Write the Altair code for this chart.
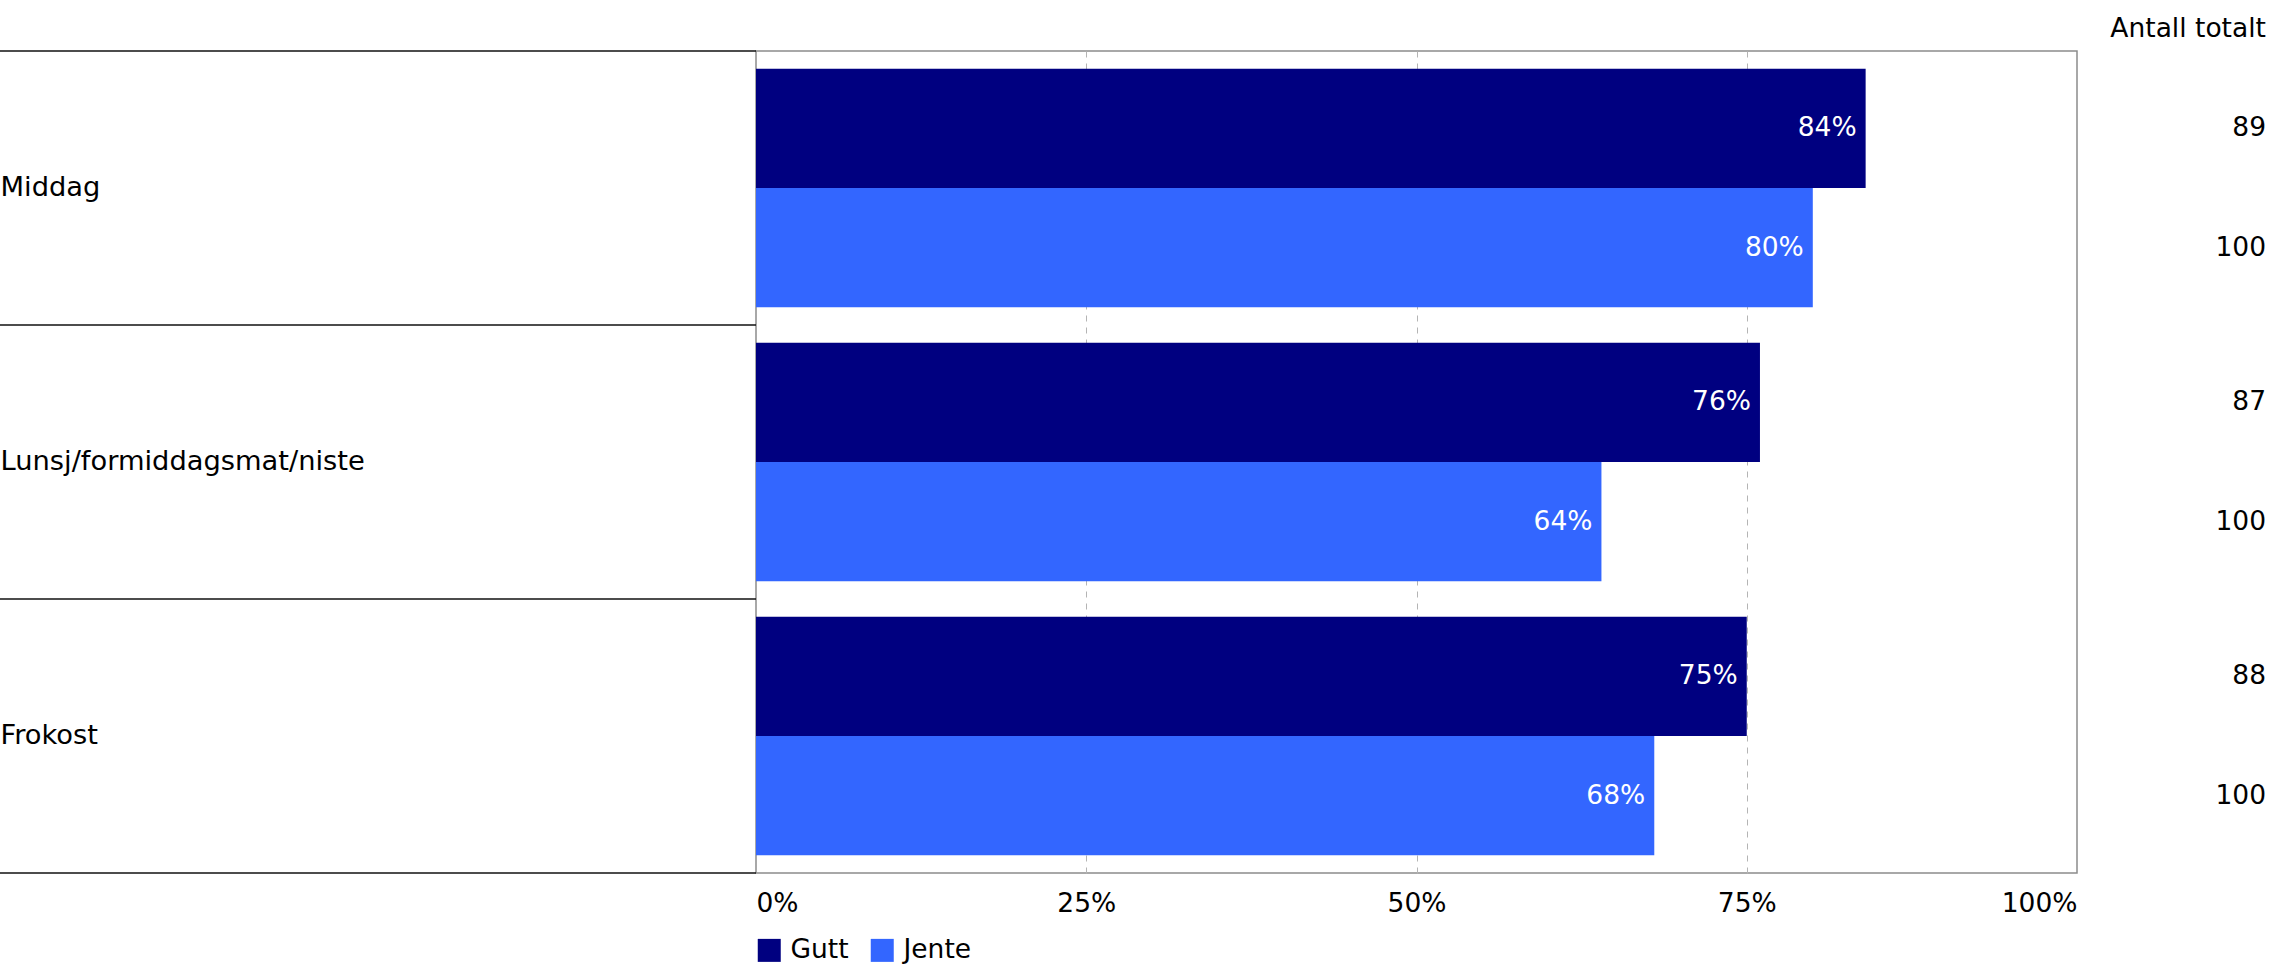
import altair as alt
import pandas as pd

categories = ["Middag", "Lunsj/formiddagsmat/niste", "Frokost"]
genders = ["Gutt", "Jente"]
gutt_pct = [84, 76, 75]
jente_pct = [80, 64, 68]
gutt_n = [89, 87, 88]
jente_n = [100, 100, 100]
x_ticks = [0, 25, 50, 75, 100]
header = "Antall totalt"
colors = ["#000080", "#3366FF"]

rows = []
for i, c in enumerate(categories):
    rows.append({"cat": c, "gender": "Gutt", "value": gutt_pct[i], "n": gutt_n[i]})
    rows.append({"cat": c, "gender": "Jente", "value": jente_pct[i], "n": jente_n[i]})
df = pd.DataFrame(rows)
df["label"] = df["value"].astype(str) + "%"
df["nlabel"] = df["n"].astype(str)

FONT = "DejaVu Sans"
FS = 26.5
W, H = 1321, 822
LEFT = 756

yscale = alt.Scale(domain=categories, paddingInner=0, paddingOuter=0)
yaxis = alt.Axis(labelAlign="left", labelPadding=LEFT, labelLimit=1000, ticks=False,
                 domain=False, labelFontSize=27.3, labelColor="#000", labelFont=FONT,
                 title=None, labelBaseline="middle")
y = alt.Y("cat:N", sort=categories, scale=yscale, axis=yaxis, title=None)
yoff = alt.YOffset("gender:N", sort=genders,
                   scale=alt.Scale(domain=genders, paddingOuter=0.15, paddingInner=0))
x = alt.X("value:Q", scale=alt.Scale(domain=[0, 100], nice=False, zero=True),
          axis=alt.Axis(values=x_ticks, labelExpr="datum.value + '%'", grid=True,
                        gridDash=[6, 6], gridColor="#b4b4b4", gridWidth=1,
                        gridOpacity={"condition": {"test": "datum.value > 0 && datum.value < 100", "value": 1}, "value": 0},
                        ticks=False, domain=False, labelFlush=True, labelPadding=17,
                        labelFontSize=FS, labelFont=FONT, labelColor="#000", title=None))

base = alt.Chart(df)

bars = base.mark_bar().encode(
    x=x, y=y, yOffset=yoff,
    color=alt.Color("gender:N", sort=genders,
                    scale=alt.Scale(domain=genders, range=colors),
                    legend=alt.Legend(orient="none", legendX=0, legendY=886,
                                      direction="horizontal", title=None,
                                      symbolType="square", symbolSize=529,
                                      symbolStrokeWidth=0, labelFontSize=FS,
                                      labelFont=FONT, labelColor="#000",
                                      columnPadding=20, labelOffset=8)),
)

bar_text = base.mark_text(align="right", baseline="middle", dx=-9, color="white",
                          fontSize=FS, font=FONT).encode(
    x=x, y=y, yOffset=yoff, text="label:N")

counts = base.mark_text(align="right", baseline="middle", color="#000",
                        fontSize=FS, font=FONT).encode(
    x=alt.value(W + 189), y=y, yOffset=yoff, text="nlabel:N")

cat_df = pd.DataFrame({"cat": categories})
sep = alt.Chart(cat_df).mark_rule(color="#111", strokeWidth=1.5).encode(
    y=alt.Y("cat:N", sort=categories, scale=yscale, axis=yaxis, bandPosition=0, title=None),
    x=alt.value(-LEFT), x2=alt.value(0))

bottom_rule = alt.Chart(pd.DataFrame({"a": [0]})).mark_rule(color="#111", strokeWidth=1.5).encode(
    y=alt.value(H), x=alt.value(-LEFT), x2=alt.value(0))

head = alt.Chart(pd.DataFrame({"t": [header]})).mark_text(
    align="right", baseline="alphabetic", fontSize=FS, font=FONT, color="#000").encode(
    x=alt.value(W + 189), y=alt.value(-14), text="t:N")

chart = alt.layer(bars, bar_text, counts, sep, bottom_rule, head).properties(
    width=W, height=H,
    padding={"left": LEFT, "top": 51, "right": 2271 - LEFT - W, "bottom": 972 - 51 - H},
    autosize=alt.AutoSizeParams(type="none"),
).configure(background="white", view=alt.ViewConfig(stroke="#8c8c8c", strokeWidth=1.5))

chart.save("out.html", embed_options={"renderer": "svg", "actions": False})
